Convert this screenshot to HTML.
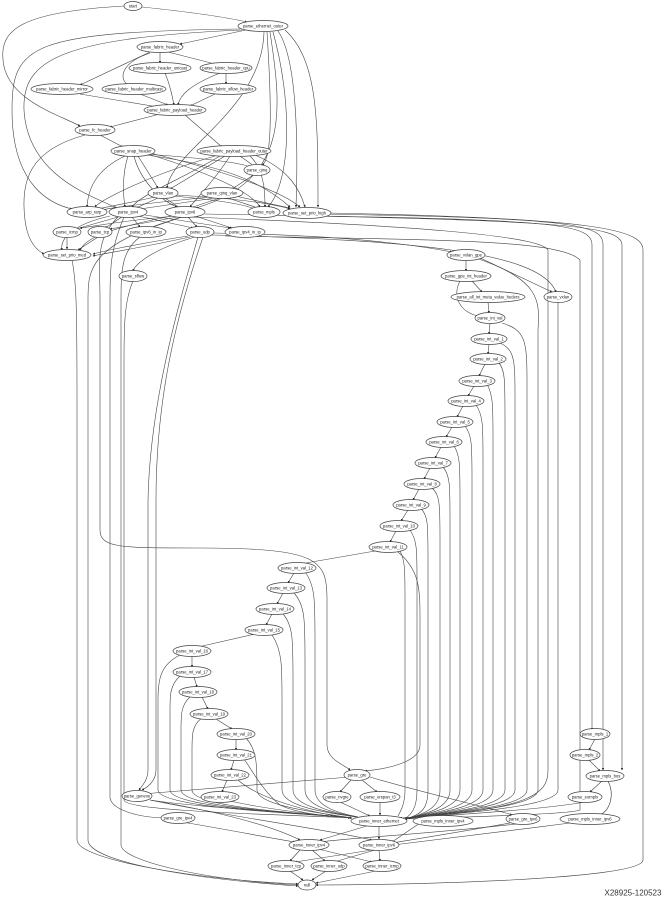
<!DOCTYPE html>
<html><head><meta charset="utf-8"><style>
html,body{margin:0;padding:0;background:#fff;}
svg{display:block;}
text{font-family:"Liberation Sans",sans-serif;font-size:4.2px;fill:#222;text-anchor:middle;dominant-baseline:central;}
.n{fill:#fff;stroke:#444;stroke-width:0.7;}
.e{fill:none;stroke:#444;stroke-width:0.6;}
</style></head><body>
<svg width="665" height="900" viewBox="0 0 665 900" xmlns="http://www.w3.org/2000/svg">
<defs><marker id="a" viewBox="0 0 6 6" refX="5" refY="3" markerWidth="4" markerHeight="4" orient="auto"><path d="M0,0L6,3L0,6z" fill="#222"/></marker></defs>
<g class="e" marker-end="url(#a)">
<path d="M142,7 C190,12 225,17 247,22"/>
<path d="M124,6 C20,12 0,30 3,60 C6,100 60,115 80,126"/>
<path d="M246,30 L180,44"/>
<path d="M240,29 C30,32 12,45 12,110 C12,190 55,205 72,209"/>
<path d="M242,30 C60,38 22,60 24,110 C28,180 100,198 116,208"/>
<path d="M264,32 C262,110 172,150 167,188"/>
<path d="M267,32 C272,110 272,160 262,165"/>
<path d="M270,32 C282,110 290,180 196,208"/>
<path d="M273,32 C292,100 292,180 268,207"/>
<path d="M278,31 C298,60 298,150 296,207"/>
<path d="M285,30 C318,60 318,120 318,207"/>
<path d="M160,52 L160,63"/>
<path d="M168,52 L215,64"/>
<path d="M150,52 L80,85"/>
<path d="M150,53 C118,64 120,80 128,85"/>
<path d="M226,73 L226,84"/>
<path d="M165,73 C170,85 172,95 174,105"/>
<path d="M220,73 C190,85 180,95 178,105"/>
<path d="M80,94 L158,107"/>
<path d="M140,94 L168,105"/>
<path d="M215,94 L190,106"/>
<path d="M160,114 L110,127"/>
<path d="M185,115 L222,147"/>
<path d="M100,135 L123,147"/>
<path d="M85,135 C30,150 20,180 25,220 C28,245 40,252 44,254"/>
<path d="M125,156 C95,170 88,190 87,207"/>
<path d="M128,156 C122,175 123,195 125,207"/>
<path d="M134,156 C140,180 160,200 177,207"/>
<path d="M138,156 L158,188"/>
<path d="M145,154 C200,158 240,162 250,167"/>
<path d="M148,154 C200,170 250,190 260,207"/>
<path d="M150,153 C220,170 280,190 300,207"/>
<path d="M146,155 C220,165 260,180 290,207"/>
<path d="M215,156 C150,175 100,200 95,207"/>
<path d="M220,156 C180,180 140,195 132,207"/>
<path d="M225,156 L170,189"/>
<path d="M230,156 C215,180 195,200 190,207"/>
<path d="M240,156 L254,166"/>
<path d="M250,156 C265,170 265,195 265,207"/>
<path d="M255,155 C290,170 300,190 305,207"/>
<path d="M255,174 L232,189"/>
<path d="M155,197 C120,205 100,208 98,209"/>
<path d="M158,198 L136,208"/>
<path d="M165,198 L180,208"/>
<path d="M172,196 C220,200 245,205 255,209"/>
<path d="M176,195 C230,198 270,203 290,209"/>
<path d="M210,197 C150,203 110,208 102,210"/>
<path d="M215,198 L140,209"/>
<path d="M220,198 L190,208"/>
<path d="M228,198 L258,208"/>
<path d="M235,196 L290,208"/>
<path d="M118,217 L76,229"/>
<path d="M122,217 L105,228"/>
<path d="M132,217 L140,227"/>
<path d="M138,216 L193,228"/>
<path d="M145,215 L230,228"/>
<path d="M110,216 C70,225 60,240 62,250"/>
<path d="M175,216 C110,222 85,228 80,228"/>
<path d="M178,217 L110,229"/>
<path d="M182,217 L150,228"/>
<path d="M188,217 L197,227"/>
<path d="M195,216 L232,228"/>
<path d="M172,216 C100,230 85,240 80,250"/>
<path d="M67,237 L67,249"/>
<path d="M98,237 L78,250"/>
<path d="M188,236 C130,245 100,252 93,254"/>
<path d="M190,237 C130,250 100,254 93,256"/>
<path d="M195,237 C150,250 135,265 133,271"/>
<path d="M214,233 C380,236 440,250 452,252"/>
<path d="M212,235 C400,240 540,250 556,292"/>
<path d="M72,260 C76,280 77,300 77,400 L77,840 C77,860 200,880 298,884"/>
<path d="M118,217 C95,240 100,260 100,300 L100,530 C100,548 120,548 200,548 C320,548 327,560 327,600 L327,745 C327,760 345,765 350,770"/>
<path d="M124,217 C110,250 110,270 110,300 L110,795 C108,810 140,818 168,818"/>
<path d="M140,237 C122,250 121,270 121,300 L121,845 C121,860 200,880 300,885"/>
<path d="M133,281 C125,300 124,320 124,360 L124,800 C124,812 300,815 352,818"/>
<path d="M198,237 C180,300 150,400 148,500 L148,770 C148,780 142,786 139,790"/>
<path d="M203,237 C175,320 156,400 156,500 L156,770 C156,782 146,788 142,790"/>
<path d="M182,217 C88,245 88,270 88,300 L88,840 C88,860 180,878 298,886"/>
<path d="M225,236 C450,240 560,240 580,260 L580,810 C570,815 420,818 405,819"/>
<path d="M318,216 C560,220 592,225 592,245 L592,730"/>
<path d="M318,214 C580,218 603,225 603,245 L603,770"/>
<path d="M205,214 C560,220 622,225 622,245 L622,770"/>
<path d="M326,213 C600,218 643,230 643,250 L643,860 C643,880 400,885 316,885"/>
<path d="M190,217 C400,225 540,235 548,250 L548,770 C548,790 540,810 400,818"/>
<path d="M466,260 L466,271"/>
<path d="M472,281 L482,292"/>
<path d="M460,281 C450,300 465,315 480,316"/>
<path d="M488,302 L489,313"/>
<path d="M476,258 C540,280 540,300 538,330 L538,790 C538,810 420,815 405,819"/>
<path d="M476,256 L552,292"/>
<path d="M558,302 L558,790 C558,810 420,815 405,819"/>
<path d="M490,323 L489,334"/>
<path d="M489,344 L488,354"/>
<path d="M485,364 L479,376"/>
<path d="M474,386 L468,396"/>
<path d="M463,406 L457,417"/>
<path d="M452,427 L446,437"/>
<path d="M441,447 L435,458"/>
<path d="M430,468 L424,479"/>
<path d="M419,489 L413,500"/>
<path d="M408,510 L401,521"/>
<path d="M396,531 L390,542"/>
<path d="M375,551 L300,564"/>
<path d="M294,573 L288,583"/>
<path d="M283,593 L277,604"/>
<path d="M272,614 L266,625"/>
<path d="M255,634 L198,647"/>
<path d="M192,656 L192,667"/>
<path d="M194,677 L197,687"/>
<path d="M202,697 L208,709"/>
<path d="M216,719 L232,729"/>
<path d="M236,739 L236,750"/>
<path d="M234,760 L231,770"/>
<path d="M227,780 L222,792"/>
<path d="M398,552 C420,570 420,590 420,620 L420,745 C420,760 395,768 365,771"/>
<path d="M351,780 L340,792"/>
<path d="M362,780 L377,792"/>
<path d="M350,777 C250,785 160,792 142,794"/>
<path d="M370,777 C430,795 500,810 512,815"/>
<path d="M340,802 L370,816"/>
<path d="M380,802 L380,815"/>
<path d="M595,739 L589,750"/>
<path d="M589,760 L600,771"/>
<path d="M602,781 L590,792"/>
<path d="M608,781 C615,795 610,810 600,815"/>
<path d="M585,802 C540,810 450,815 405,818"/>
<path d="M150,800 C200,808 300,812 350,818"/>
<path d="M150,800 C220,812 270,825 300,840"/>
<path d="M150,800 C220,815 330,830 372,840"/>
<path d="M182,822 C230,830 270,838 295,842"/>
<path d="M370,825 L320,840"/>
<path d="M379,826 L379,839"/>
<path d="M420,823 L392,842"/>
<path d="M510,823 C460,832 410,840 392,843"/>
<path d="M570,823 C500,832 420,842 393,845"/>
<path d="M525,823 C440,833 350,838 320,842"/>
<path d="M300,850 L290,861"/>
<path d="M312,850 L325,861"/>
<path d="M318,849 L372,862"/>
<path d="M372,850 L295,862"/>
<path d="M375,850 L334,862"/>
<path d="M379,850 L380,861"/>
<path d="M290,871 L303,880"/>
<path d="M326,871 L312,880"/>
<path d="M376,871 L316,883"/>
</g>
<g class="e">
<path d="M502,323 C525,330 527,340 527,380 L527,790 C527,810 420,815 405,819"/>
<path d="M500,343 C515,350 515,360 515,400 L515,790 C515,810 420,815 405,819"/>
<path d="M499,363 C505,370 505,380 505,420 L505,790 C505,810 420,815 405,819"/>
<path d="M487,384 C493,395 493,405 493,440 L493,790 C493,810 420,815 405,819"/>
<path d="M476,405 C483,415 483,425 483,460 L483,790 C483,810 420,815 405,819"/>
<path d="M465,426 C472,435 472,445 472,480 L472,790 C472,810 420,815 405,819"/>
<path d="M454,446 C460,455 460,465 460,500 L460,790 C460,810 420,815 405,819"/>
<path d="M443,467 C450,475 450,485 450,520 L450,790 C450,810 420,815 405,819"/>
<path d="M432,488 C440,495 440,505 440,540 L440,790 C440,810 420,815 405,819"/>
<path d="M421,509 C428,515 428,525 428,560 L428,790 C428,810 420,815 405,819"/>
<path d="M410,530 C417,540 417,550 417,580 L417,790 C417,810 410,815 405,819"/>
<path d="M400,551 C405,560 405,570 405,600 L405,790 C405,805 400,812 398,816"/>
<path d="M305,572 C315,585 315,600 315,640 L315,790 C315,810 350,815 358,817"/>
<path d="M294,593 C305,605 305,620 305,660 L305,790 C305,810 350,815 357,817"/>
<path d="M283,614 C293,625 293,640 293,680 L293,790 C293,810 350,815 356,817"/>
<path d="M272,635 C282,650 282,665 282,700 L282,790 C282,810 350,815 355,817"/>
<path d="M180,655 C160,665 158,680 158,700 L158,790 C158,810 340,815 352,818"/>
<path d="M180,676 C170,685 170,695 170,710 L170,790 C170,810 340,815 352,818"/>
<path d="M190,697 C181,705 181,715 181,730 L181,790 C181,810 340,815 352,818"/>
<path d="M202,718 C192,725 192,735 192,750 L192,790 C192,810 340,815 352,818"/>
<path d="M246,738 C257,750 257,765 257,790 C257,808 340,815 352,818"/>
<path d="M244,759 C252,770 262,790 280,805 C300,815 340,817 352,818"/>
<path d="M238,780 C260,800 320,815 352,818"/>
<path d="M230,801 C270,810 330,816 352,818"/>
</g>
<g>
<ellipse class="n" cx="133" cy="6" rx="9" ry="4.5"/><text x="133" y="6">start</text>
<ellipse class="n" cx="263" cy="26" rx="25" ry="5.5"/><text x="263" y="26">parse_ethernet_outer</text>
<ellipse class="n" cx="160" cy="47" rx="23" ry="5.5"/><text x="160" y="47">parse_fabric_header</text>
<ellipse class="n" cx="160" cy="68" rx="31" ry="5.5"/><text x="160" y="68">parse_fabric_header_unicast</text>
<ellipse class="n" cx="226" cy="68" rx="26" ry="5.5"/><text x="226" y="68">parse_fabric_header_cpu</text>
<ellipse class="n" cx="62" cy="89" rx="31" ry="5.5"/><text x="62" y="89">parse_fabric_header_mirror</text>
<ellipse class="n" cx="134" cy="89" rx="32" ry="5.5"/><text x="134" y="89">parse_fabric_header_multicast</text>
<ellipse class="n" cx="228" cy="89" rx="28" ry="5.5"/><text x="228" y="89">parse_fabric_sflow_header</text>
<ellipse class="n" cx="175" cy="110" rx="31" ry="5.5"/><text x="175" y="110">parse_fabric_payload_header</text>
<ellipse class="n" cx="95" cy="130" rx="20" ry="5.5"/><text x="95" y="130">parse_fc_header</text>
<ellipse class="n" cx="133" cy="151" rx="22" ry="5.5"/><text x="133" y="151">parse_snap_header</text>
<ellipse class="n" cx="234" cy="151" rx="37" ry="5.5"/><text x="234" y="151">parse_fabric_payload_header_outer</text>
<ellipse class="n" cx="257" cy="170" rx="13" ry="5.5"/><text x="257" y="170">parse_qinq</text>
<ellipse class="n" cx="163" cy="193" rx="15" ry="5.5"/><text x="163" y="193">parse_vlan</text>
<ellipse class="n" cx="222" cy="193" rx="21" ry="5.5"/><text x="222" y="193">parse_qinq_vlan</text>
<ellipse class="n" cx="87" cy="212" rx="20" ry="5.5"/><text x="87" y="212">parse_arp_rarp</text>
<ellipse class="n" cx="128" cy="212" rx="19" ry="5.5"/><text x="128" y="212">parse_ipv4</text>
<ellipse class="n" cx="185" cy="212" rx="20" ry="5.5"/><text x="185" y="212">parse_ipv6</text>
<ellipse class="n" cx="264" cy="212" rx="16" ry="5.5"/><text x="264" y="212">parse_mpls</text>
<ellipse class="n" cx="307" cy="213" rx="24" ry="5.5"/><text x="307" y="213">parse_set_prio_high</text>
<ellipse class="n" cx="67" cy="232" rx="14" ry="5.5"/><text x="67" y="232">parse_icmp</text>
<ellipse class="n" cx="100" cy="232" rx="12" ry="5.5"/><text x="100" y="232">parse_tcp</text>
<ellipse class="n" cx="146" cy="232" rx="20" ry="5.5"/><text x="146" y="232">parse_ipv6_in_ip</text>
<ellipse class="n" cx="200" cy="232" rx="14" ry="5.5"/><text x="200" y="232">parse_udp</text>
<ellipse class="n" cx="245" cy="232" rx="20" ry="5.5"/><text x="245" y="232">parse_ipv4_in_ip</text>
<ellipse class="n" cx="67" cy="255" rx="24" ry="5.5"/><text x="67" y="255">parse_set_prio_med</text>
<ellipse class="n" cx="133" cy="276" rx="14" ry="5.5"/><text x="133" y="276">parse_sflow</text>
<ellipse class="n" cx="466" cy="255" rx="19" ry="5.5"/><text x="466" y="255">parse_vxlan_gpe</text>
<ellipse class="n" cx="466" cy="276" rx="25" ry="5.5"/><text x="466" y="276">parse_gpe_int_header</text>
<ellipse class="n" cx="488" cy="297" rx="37" ry="5.5"/><text x="488" y="297">parse_all_int_meta_value_heders</text>
<ellipse class="n" cx="558" cy="297" rx="14" ry="5.5"/><text x="558" y="297">parse_vxlan</text>
<ellipse class="n" cx="490" cy="318" rx="15" ry="5.5"/><text x="490" y="318">parse_int_val</text>
<ellipse class="n" cx="489" cy="339" rx="18" ry="5.5"/><text x="489" y="339">parse_int_val_1</text>
<ellipse class="n" cx="488" cy="359" rx="18" ry="5.5"/><text x="488" y="359">parse_int_val_2</text>
<ellipse class="n" cx="477" cy="381" rx="18" ry="5.5"/><text x="477" y="381">parse_int_val_3</text>
<ellipse class="n" cx="466" cy="401" rx="18" ry="5.5"/><text x="466" y="401">parse_int_val_4</text>
<ellipse class="n" cx="455" cy="422" rx="18" ry="5.5"/><text x="455" y="422">parse_int_val_5</text>
<ellipse class="n" cx="444" cy="442" rx="18" ry="5.5"/><text x="444" y="442">parse_int_val_6</text>
<ellipse class="n" cx="433" cy="463" rx="18" ry="5.5"/><text x="433" y="463">parse_int_val_7</text>
<ellipse class="n" cx="422" cy="484" rx="18" ry="5.5"/><text x="422" y="484">parse_int_val_8</text>
<ellipse class="n" cx="411" cy="505" rx="18" ry="5.5"/><text x="411" y="505">parse_int_val_9</text>
<ellipse class="n" cx="399" cy="526" rx="19" ry="5.5"/><text x="399" y="526">parse_int_val_10</text>
<ellipse class="n" cx="388" cy="547" rx="19" ry="5.5"/><text x="388" y="547">parse_int_val_11</text>
<ellipse class="n" cx="297" cy="568" rx="19" ry="5.5"/><text x="297" y="568">parse_int_val_12</text>
<ellipse class="n" cx="286" cy="588" rx="19" ry="5.5"/><text x="286" y="588">parse_int_val_13</text>
<ellipse class="n" cx="275" cy="609" rx="19" ry="5.5"/><text x="275" y="609">parse_int_val_14</text>
<ellipse class="n" cx="264" cy="630" rx="19" ry="5.5"/><text x="264" y="630">parse_int_val_15</text>
<ellipse class="n" cx="192" cy="651" rx="19" ry="5.5"/><text x="192" y="651">parse_int_val_16</text>
<ellipse class="n" cx="192" cy="672" rx="19" ry="5.5"/><text x="192" y="672">parse_int_val_17</text>
<ellipse class="n" cx="198" cy="692" rx="19" ry="5.5"/><text x="198" y="692">parse_int_val_18</text>
<ellipse class="n" cx="209" cy="714" rx="19" ry="5.5"/><text x="209" y="714">parse_int_val_19</text>
<ellipse class="n" cx="236" cy="734" rx="19" ry="5.5"/><text x="236" y="734">parse_int_val_20</text>
<ellipse class="n" cx="236" cy="755" rx="19" ry="5.5"/><text x="236" y="755">parse_int_val_21</text>
<ellipse class="n" cx="230" cy="775" rx="19" ry="5.5"/><text x="230" y="775">parse_int_val_22</text>
<ellipse class="n" cx="220" cy="797" rx="19" ry="5.5"/><text x="220" y="797">parse_int_val_23</text>
<ellipse class="n" cx="357" cy="775" rx="13" ry="5.5"/><text x="357" y="775">parse_gre</text>
<ellipse class="n" cx="137" cy="796" rx="15" ry="5.5"/><text x="137" y="796">parse_geneve</text>
<ellipse class="n" cx="337" cy="797" rx="14" ry="5.5"/><text x="337" y="797">parse_nvgre</text>
<ellipse class="n" cx="380" cy="797" rx="20" ry="5.5"/><text x="380" y="797">parse_erspan_t3</text>
<ellipse class="n" cx="595" cy="734" rx="15" ry="5.5"/><text x="595" y="734">parse_mpls_1</text>
<ellipse class="n" cx="585" cy="755" rx="15" ry="5.5"/><text x="585" y="755">parse_mpls_2</text>
<ellipse class="n" cx="605" cy="776" rx="19" ry="5.5"/><text x="605" y="776">parse_mpls_bos</text>
<ellipse class="n" cx="585" cy="797" rx="17" ry="5.5"/><text x="585" y="797">parse_eompls</text>
<ellipse class="n" cx="178" cy="818" rx="17" ry="5.5"/><text x="178" y="818">parse_gre_ipv4</text>
<ellipse class="n" cx="379" cy="821" rx="28" ry="5.5"/><text x="379" y="821">parse_inner_ethernet</text>
<ellipse class="n" cx="443" cy="821" rx="30" ry="5.5"/><text x="443" y="821">parse_mpls_inner_ipv4</text>
<ellipse class="n" cx="523" cy="819" rx="17" ry="5.5"/><text x="523" y="819">parse_gre_ipv6</text>
<ellipse class="n" cx="590" cy="819" rx="30" ry="5.5"/><text x="590" y="819">parse_mpls_inner_ipv6</text>
<ellipse class="n" cx="309" cy="845" rx="20" ry="5.5"/><text x="309" y="845">parse_inner_ipv4</text>
<ellipse class="n" cx="379" cy="845" rx="20" ry="5.5"/><text x="379" y="845">parse_inner_ipv6</text>
<ellipse class="n" cx="286" cy="866" rx="18" ry="5.5"/><text x="286" y="866">parse_inner_tcp</text>
<ellipse class="n" cx="329" cy="866" rx="18" ry="5.5"/><text x="329" y="866">parse_inner_udp</text>
<ellipse class="n" cx="382" cy="866" rx="19" ry="5.5"/><text x="382" y="866">parse_inner_icmp</text>
<ellipse class="n" cx="307" cy="885" rx="9" ry="5"/><text x="307" y="885">null</text>
</g>
<text x="633" y="893" style="font-size:8px;fill:#333">X28925-120523</text>
</svg>
</body></html>
